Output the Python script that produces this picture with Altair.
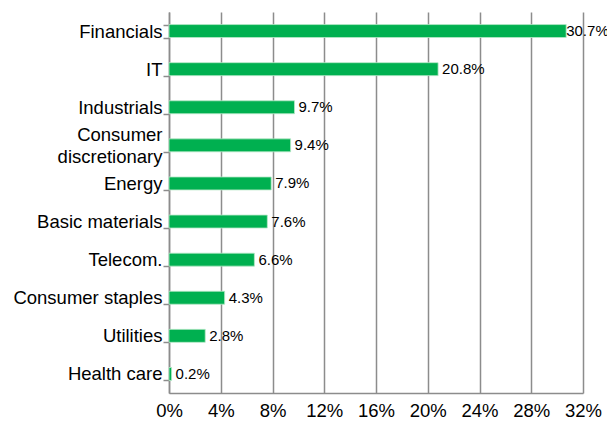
import altair as alt
import pandas as pd

sectors = ["Financials", "IT", "Industrials", "Consumer |discretionary", "Energy",
           "Basic materials", "Telecom.", "Consumer staples", "Utilities", "Health care"]
weights = [30.7, 20.8, 9.7, 9.4, 7.9, 7.6, 6.6, 4.3, 2.8, 0.2]
x_ticks = [0, 4, 8, 12, 16, 20, 24, 28, 32]

df = pd.DataFrame({"sector": sectors, "weight": weights})
df["label"] = df["weight"].map(lambda v: f"{v:.1f}%")

FONT = "Liberation Sans"
GRID = "#8c8c8c"

y_enc = alt.Y(
    "sector:N", sort=sectors, title=None,
    scale=alt.Scale(paddingInner=0.66, paddingOuter=0.33),
    axis=alt.Axis(
        labelExpr="split(datum.label, '|')",
        labelFont=FONT, labelFontSize=18.5, labelColor="#000000",
        labelPadding=1, tickBand="extent", tickSize=6, tickColor=GRID,
        tickWidth=1.5, domainColor=GRID, domainWidth=1.5, grid=False,
        labelLineHeight=22,
        labelOffset={"condition": {"test": "indexof(datum.label, '|') >= 0", "value": -11}, "value": 0},
    ),
)
x_enc = alt.X(
    "weight:Q", title=None,
    scale=alt.Scale(domain=[0, 32], nice=False),
    axis=alt.Axis(
        values=x_ticks, labelExpr="datum.value + '%'",
        labelFont=FONT, labelFontSize=18.5, labelColor="#000000",
        labelPadding=8, labelFlush=False, ticks=False, grid=True,
        gridColor=GRID, gridWidth=1.5, domainColor=GRID, domainWidth=1.5,
    ),
)

bars = alt.Chart(df).mark_bar(color="#00b050", stroke="#b8e8c8", strokeWidth=0.8).encode(
    x=x_enc, y=y_enc
)
text_enc = dict(x="weight:Q", y=alt.Y("sector:N", sort=sectors), text="label:N")
text_main = alt.Chart(df).transform_filter("datum.weight < 30").mark_text(
    align="left", baseline="middle", dx=4, font=FONT, fontSize=15, color="#000000"
).encode(**text_enc)
text_top = alt.Chart(df).transform_filter("datum.weight >= 30").mark_text(
    align="left", baseline="middle", dx=0, font=FONT, fontSize=15, color="#000000"
).encode(**text_enc)

chart = (bars + text_main + text_top).properties(
    width=414, height=381,
    autosize=alt.AutoSizeParams(type="none"),
    padding={"left": 161, "top": 4, "right": 24, "bottom": 24},
).configure_view(stroke=None)

chart.save("out.html", embed_options={"renderer": "svg", "actions": False})
